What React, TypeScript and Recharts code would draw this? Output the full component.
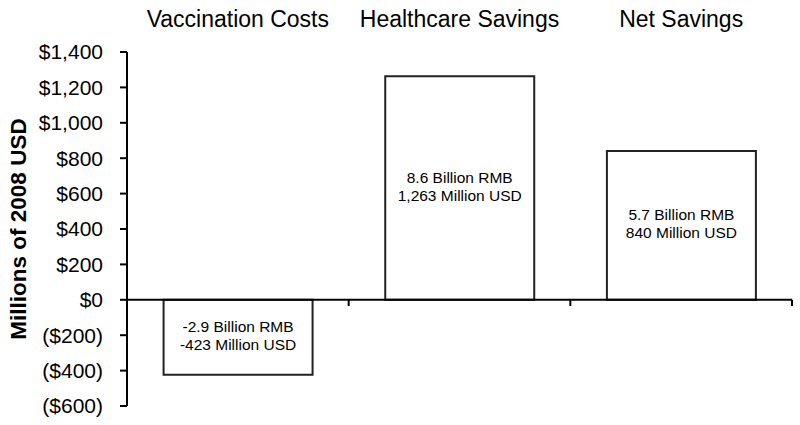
import { BarChart, Bar, XAxis, YAxis, ReferenceLine, LabelList } from 'recharts';

const categories = ['Vaccination Costs', 'Healthcare Savings', 'Net Savings'];
const valuesUsd = [-423, 1263, 840];
const rmbLabels = ['-2.9 Billion RMB', '8.6 Billion RMB', '5.7 Billion RMB'];
const usdLabels = ['-423 Million USD', '1,263 Million USD', '840 Million USD'];
const yTicks = [-600, -400, -200, 0, 200, 400, 600, 800, 1000, 1200, 1400];

const data = categories.map((name, i) => ({
  name,
  value: valuesUsd[i],
  rmb: rmbLabels[i],
  usd: usdLabels[i],
}));

const FONT = '"Liberation Sans", Arial, sans-serif';

const formatMoney = (v: number) =>
  v < 0 ? `($${Math.abs(v).toLocaleString('en-US')})` : `$${v.toLocaleString('en-US')}`;

const TopTick = ({ x, payload }: any) => (
  <text x={x} y={27} textAnchor="middle" fontSize={23} fontFamily={FONT} fill="#000">
    {payload.value}
  </text>
);

const BarText = (props: any) => {
  const { x, y, width, height, index } = props;
  const cx = x + width / 2;
  const cy = y + height / 2;
  return (
    <text textAnchor="middle" fontSize={15.5} fontFamily={FONT} fill="#000">
      <tspan x={cx} y={cy - 5}>{data[index].rmb}</tspan>
      <tspan x={cx} y={cy + 13}>{data[index].usd}</tspan>
    </text>
  );
};

export default function App() {
  return (
    <div style={{ position: 'absolute', left: 0, top: 0, background: '#fff' }}>
      <BarChart
        width={800}
        height={425}
        data={data}
        margin={{ top: 12, right: 8, left: 0, bottom: 19 }}
        barCategoryGap="16.5%"
      >
        <XAxis
          dataKey="name"
          orientation="top"
          height={40}
          axisLine={false}
          tickLine={false}
          tick={<TopTick />}
          interval={0}
        />
        <YAxis
          domain={[-600, 1400]}
          ticks={yTicks}
          width={127}
          interval={0}
          tickFormatter={formatMoney}
          tick={{ fontSize: 21, fill: '#000', fontFamily: FONT }}
          tickSize={7}
          tickMargin={17}
          axisLine={{ stroke: '#000', strokeWidth: 2 }}
          tickLine={{ stroke: '#000', strokeWidth: 2 }}
          label={{
            value: 'Millions of 2008 USD',
            angle: -90,
            position: 'insideLeft',
            offset: 18,
            style: { textAnchor: 'middle', fontSize: 22.5, fontWeight: 'bold', fontFamily: FONT, fill: '#000' },
          }}
        />
        <ReferenceLine y={0} stroke="#000" strokeWidth={2} />
        {categories.map((c) => (
          <ReferenceLine
            key={c}
            position="end"
            segment={[{ x: c, y: 0 }, { x: c, y: -35 }]}
            stroke="#000"
            strokeWidth={2}
          />
        ))}
        <Bar dataKey="value" fill="#fff" stroke="#222" strokeWidth={2} isAnimationActive={false}>
          <LabelList dataKey="value" content={<BarText />} />
        </Bar>
      </BarChart>
    </div>
  );
}
